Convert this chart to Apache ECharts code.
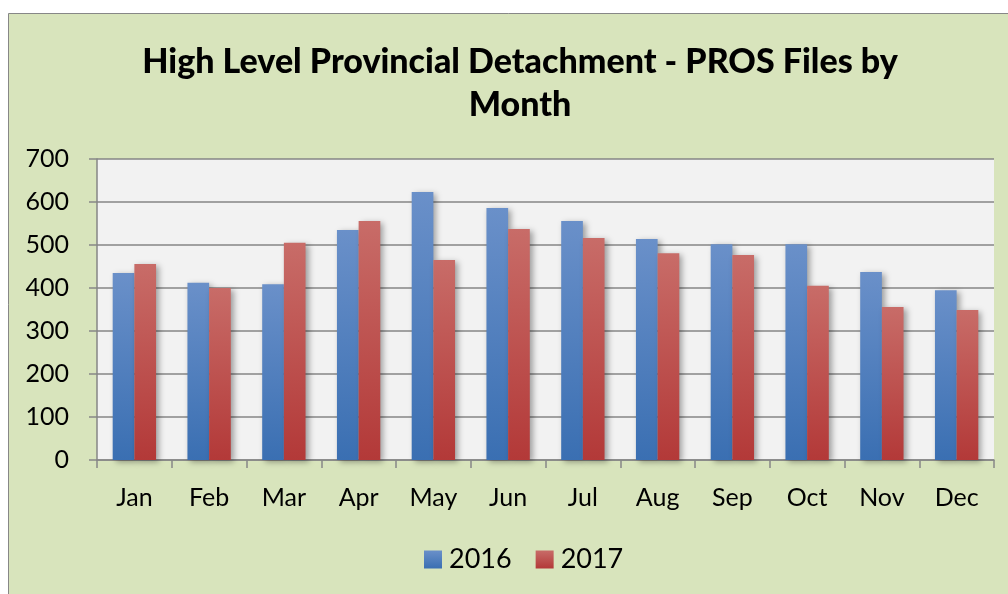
<!DOCTYPE html>
<html>
<head>
<meta charset="utf-8">
<script src="https://cdn.jsdelivr.net/npm/echarts@6/dist/echarts.min.js"></script>
<style>
    html, body { margin: 0; padding: 0; background: #fff; }
    #main { width: 1008px; height: 594px; }
</style>
</head>
<body>
<div id="main"></div>
<script>
// 数据
var months = ['Jan', 'Feb', 'Mar', 'Apr', 'May', 'Jun', 'Jul', 'Aug', 'Sep', 'Oct', 'Nov', 'Dec'];
var files2016 = [435, 412, 409, 535, 623, 586, 556, 514, 502, 502, 437, 395];
var files2017 = [456, 400, 505, 556, 465, 537, 516, 481, 477, 405, 356, 349];
var yTicks = [0, 100, 200, 300, 400, 500, 600, 700];

(function () {
    var font = 'Lato, "Open Sans", sans-serif';
    // 柱子渐变
    var blue = new echarts.graphic.LinearGradient(0, 0, 0, 1, [
        {offset: 0, color: '#6a90c9'},
        {offset: 1, color: '#3a6fb2'}
    ]);
    var red = new echarts.graphic.LinearGradient(0, 0, 0, 1, [
        {offset: 0, color: '#c86c68'},
        {offset: 1, color: '#b33938'}
    ]);
    var shadow = {
        shadowBlur: 6,
        shadowColor: 'rgba(0,0,0,0.35)',
        shadowOffsetX: 3,
        shadowOffsetY: 2
    };

    var option = {
        backgroundColor: '#fff',
        animation: false,
        graphic: [{
            // 外框 浅绿色背景
            type: 'rect',
            z: -10,
            silent: true,
            shape: {x: 8.5, y: 13.5, width: 1100, height: 700},
            style: {fill: '#d8e4bc', stroke: '#878787', lineWidth: 1}
        }],
        title: {
            text: 'High Level Provincial Detachment - PROS Files by\nMonth',
            left: 515,
            textAlign: 'center',
            top: 36,
            textStyle: {
                fontFamily: font,
                fontWeight: 900,
                fontSize: 34,
                lineHeight: 43,
                color: '#000'
            }
        },
        legend: {
            data: ['2016', '2017'],
            left: 419,
            top: 541,
            itemWidth: 18,
            itemHeight: 18,
            itemGap: 24,
            icon: 'rect',
            textStyle: {
                fontFamily: font,
                fontSize: 27,
                color: '#000',
                padding: [0, 0, 0, 2]
            }
        },
        grid: {
            left: 97,
            right: 14,
            top: 159,
            bottom: 134,
            show: true,
            backgroundColor: '#f2f2f2',
            borderWidth: 0
        },
        xAxis: {
            type: 'category',
            data: months,
            axisLine: {lineStyle: {color: '#868686', width: 1.5}},
            axisTick: {show: true, length: 8, alignWithLabel: false, lineStyle: {color: '#868686', width: 1.5}},
            axisLabel: {
                margin: 25,
                fontFamily: font,
                fontSize: 25,
                color: '#000'
            }
        },
        yAxis: {
            type: 'value',
            min: yTicks[0],
            max: yTicks[yTicks.length - 1],
            interval: 100,
            axisLine: {show: true, lineStyle: {color: '#868686', width: 1.5}},
            axisTick: {show: true, length: 8, lineStyle: {color: '#868686', width: 1.5}},
            splitLine: {lineStyle: {color: '#868686', width: 1.5}},
            axisLabel: {
                margin: 28,
                fontFamily: font,
                fontSize: 25,
                color: '#000'
            }
        },
        series: [{
            name: '2016',
            type: 'bar',
            data: files2016,
            barGap: '0%',
            barCategoryGap: '42%',
            itemStyle: Object.assign({color: blue}, shadow)
        }, {
            name: '2017',
            type: 'bar',
            data: files2017,
            itemStyle: Object.assign({color: red}, shadow)
        }]
    };

    var myechart = echarts.init(document.getElementById('main'));
    myechart.setOption(option);
})();
</script>
</body>
</html>
